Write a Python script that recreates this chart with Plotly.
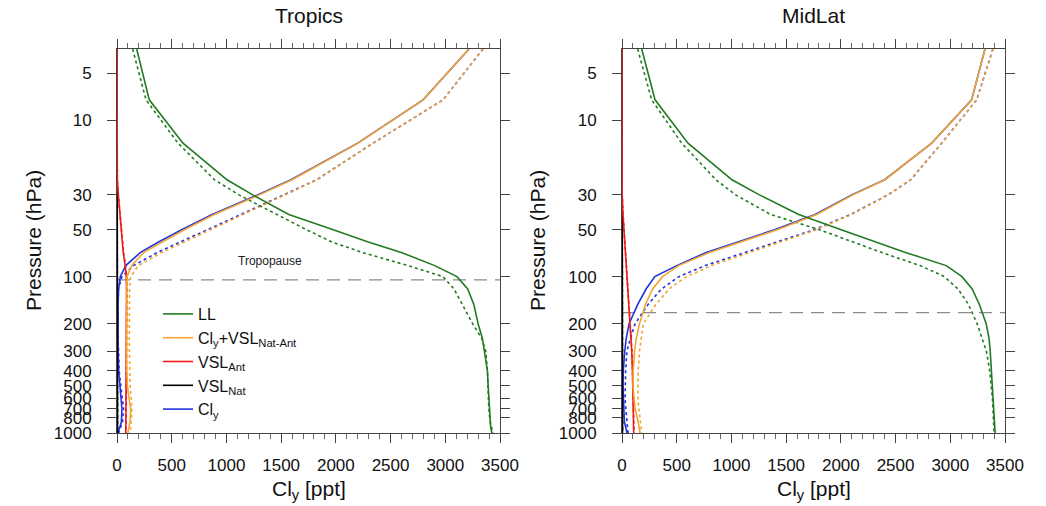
import plotly.graph_objects as go
import math

# Pressure levels (hPa)
P = [3.5, 7.4, 14, 24, 30, 40, 50, 60, 70, 85, 100, 120, 150, 200, 250, 300, 400, 500, 600, 700, 850, 925, 1000]

# ---------------- Tropics ----------------
trop_LL = [180, 295, 603, 1005, 1240, 1570, 1970, 2296, 2598, 2903, 3107, 3205, 3260, 3300, 3340, 3355, 3385, 3392, 3398, 3402, 3408, 3415, 3427]
trop_LL_d = [143, 265, 557, 890, 1115, 1456, 1729, 1963, 2240, 2660, 2980, 3080, 3151, 3250, 3335, 3370, 3385, 3390, 3395, 3398, 3410, 3420, 3436]
trop_CV = [3217, 2797, 2203, 1600, 1300, 889, 620, 410, 245, 133, 91, 88, 87, 88, 88, 88, 90, 95, 110, 125, 118, 108, 100]
trop_CV_d = [3345, 2980, 2340, 1831, 1536, 1151, 850, 612, 411, 195, 125, 115, 112, 112, 112, 113, 115, 120, 130, 135, 130, 125, 120]
trop_Ant = [0, 0, 1, 3, 12, 25, 35, 45, 57, 75, 85, 87, 87, 86, 85, 85, 84, 83, 82, 82, 81, 80, 80]
trop_Ant_d = [0, 0, 1, 3, 12, 26, 37, 48, 60, 78, 88, 90, 90, 89, 88, 88, 87, 86, 85, 85, 84, 83, 83]
trop_Nat = [0, 0, 0, 1, 1, 2, 2, 3, 3, 4, 4, 5, 5, 5, 5, 5, 5, 5, 5, 5, 5, 5, 5]
trop_Nat_d = [0, 0, 0, 1, 1, 2, 2, 3, 3, 4, 4, 5, 5, 5, 5, 5, 5, 5, 5, 5, 5, 5, 5]
trop_Cly = [3217, 2797, 2200, 1590, 1285, 870, 595, 380, 215, 80, 30, 15, 10, 8, 8, 10, 15, 25, 35, 45, 40, 25, 10]
trop_Cly_d = [3345, 2980, 2340, 1825, 1525, 1135, 830, 585, 370, 150, 45, 12, 10, 10, 10, 15, 20, 35, 50, 60, 50, 30, 15]
trop_tropopause = 105

# ---------------- MidLat ----------------
mid_LL = [180, 302, 603, 1005, 1256, 1615, 1997, 2323, 2590, 2963, 3107, 3200, 3265, 3328, 3355, 3365, 3375, 3385, 3390, 3395, 3400, 3405, 3410]
mid_LL_d = [143, 271, 545, 858, 1039, 1357, 1800, 2110, 2373, 2724, 2946, 3071, 3165, 3245, 3290, 3330, 3360, 3375, 3385, 3390, 3395, 3398, 3400]
mid_CV = [3317, 3195, 2830, 2403, 2109, 1779, 1424, 1081, 799, 517, 370, 280, 215, 160, 130, 115, 102, 100, 108, 120, 148, 160, 165]
mid_CV_d = [3390, 3241, 2921, 2638, 2435, 2100, 1780, 1451, 1170, 817, 589, 430, 311, 195, 175, 160, 148, 146, 146, 155, 165, 172, 180]
mid_Ant = [0, 0, 0, 0, 2, 9, 18, 25, 32, 42, 50, 57, 65, 73, 82, 89, 95, 98, 100, 102, 104, 106, 107]
mid_Ant_d = [0, 0, 0, 0, 2, 10, 19, 27, 34, 44, 52, 59, 67, 75, 84, 91, 97, 100, 102, 104, 106, 108, 110]
mid_Nat = [0, 0, 0, 0, 0, 1, 1, 1, 2, 2, 2, 3, 3, 3, 4, 4, 4, 5, 5, 5, 5, 5, 5]
mid_Nat_d = [0, 0, 0, 0, 0, 1, 1, 1, 2, 2, 2, 3, 3, 3, 4, 4, 4, 5, 5, 5, 5, 5, 5]
mid_Cly = [3317, 3195, 2830, 2400, 2100, 1765, 1400, 1060, 770, 500, 300, 220, 145, 65, 38, 25, 12, 9, 12, 18, 22, 35, 45]
mid_Cly_d = [3390, 3241, 2921, 2638, 2430, 2090, 1760, 1420, 1120, 760, 520, 360, 240, 120, 75, 45, 33, 28, 28, 35, 45, 50, 55]
mid_tropopause = 170

panel_titles = ["Tropics", "MidLat"]
x_ticks = [0, 500, 1000, 1500, 2000, 2500, 3000, 3500]
y_ticks = [5, 10, 30, 50, 100, 200, 300, 400, 500, 600, 700, 800, 1000]
x_limits = [0, 3500]
p_top = 3.5
p_bottom = 1000

series_names = ["LL", "Cl<sub>y</sub>+VSL<sub>Nat-Ant</sub>", "VSL<sub>Ant</sub>", "VSL<sub>Nat</sub>", "Cl<sub>y</sub>"]
series_colors = ["#217a21", "#f2a533", "#ee1c1c", "#000000", "#2233dd"]

FONT = "Liberation Sans, Arial, Helvetica, sans-serif"

panels = [
    dict(LL=trop_LL, LLd=trop_LL_d, CV=trop_CV, CVd=trop_CV_d, Ant=trop_Ant, Antd=trop_Ant_d,
         Nat=trop_Nat, Natd=trop_Nat_d, Cly=trop_Cly, Clyd=trop_Cly_d, tp=trop_tropopause),
    dict(LL=mid_LL, LLd=mid_LL_d, CV=mid_CV, CVd=mid_CV_d, Ant=mid_Ant, Antd=mid_Ant_d,
         Nat=mid_Nat, Natd=mid_Nat_d, Cly=mid_Cly, Clyd=mid_Cly_d, tp=mid_tropopause),
]

fig = go.Figure()

# draw order (bottom->top) and legend rank
draw_order = [("Cly", 4), ("Nat", 3), ("Ant", 2), ("CV", 1), ("LL", 0)]

for i, pan in enumerate(panels):
    xa = "x" if i == 0 else "x2"
    ya = "y" if i == 0 else "y2"
    # tropopause line
    fig.add_trace(go.Scatter(x=x_limits, y=[pan["tp"], pan["tp"]], mode="lines",
                             line=dict(color="#8a8a8a", width=1.2, dash="13px,8px"),
                             showlegend=False, hoverinfo="skip", xaxis=xa, yaxis=ya))
    for key, idx in draw_order:
        fig.add_trace(go.Scatter(x=pan[key + "d"], y=P, mode="lines",
                                 line=dict(color=series_colors[idx], width=1.6, dash="3px,3px"),
                                 showlegend=False, xaxis=xa, yaxis=ya))
    for key, idx in draw_order:
        fig.add_trace(go.Scatter(x=pan[key], y=P, mode="lines", name=series_names[idx],
                                 line=dict(color=series_colors[idx], width=1.6),
                                 showlegend=(i == 0), legendrank=idx + 1,
                                 xaxis=xa, yaxis=ya))

W, H = 1046, 506
x_dom = [[117 / W, 500 / W], [622 / W, 1005 / W]]
y_dom = [(H - 433) / H, (H - 49) / H]

axis_common_x = dict(range=x_limits, tickvals=x_ticks, ticks="outside", ticklen=9, tickwidth=1,
                     tickcolor="#444", showline=True, linecolor="#444", linewidth=1, mirror="ticks",
                     showgrid=False, zeroline=False, tickfont=dict(size=17, family=FONT, color="#111"),
                     ticklabelstandoff=8,
                     minor=dict(dtick=100, ticks="outside", ticklen=5, tickcolor="#666", showgrid=False))
axis_common_y = dict(type="log", range=[math.log10(p_bottom), math.log10(p_top)], tickvals=y_ticks,
                     ticktext=[str(v) for v in y_ticks], ticks="outside", ticklen=9, tickwidth=1,
                     tickcolor="#444", showline=True, linecolor="#444", linewidth=1, mirror="ticks",
                     showgrid=False, zeroline=False, tickfont=dict(size=17, family=FONT, color="#111"),
                     ticklabelstandoff=12)

layout = dict(
    width=W, height=H, margin=dict(l=0, r=0, t=0, b=0, autoexpand=False),
    paper_bgcolor="white", plot_bgcolor="white",
    font=dict(family=FONT, color="#111"),
    showlegend=True,
    legend=dict(x=158 / W, y=(H - 297) / H, xanchor="left", yanchor="top",
                bgcolor="rgba(0,0,0,0)", font=dict(size=16, family=FONT, color="#111"),
                tracegroupgap=0, itemwidth=30, traceorder="normal"),
    xaxis=dict(domain=x_dom[0], anchor="y", **axis_common_x),
    yaxis=dict(domain=y_dom, anchor="x", **axis_common_y),
    xaxis2=dict(domain=x_dom[1], anchor="y2", **axis_common_x),
    yaxis2=dict(domain=y_dom, anchor="x2", **axis_common_y),
)

ann = []
for i in range(2):
    cx = (x_dom[i][0] + x_dom[i][1]) / 2
    ann.append(dict(text=panel_titles[i], x=cx, y=(H - 15) / H, xref="paper", yref="paper",
                    showarrow=False, font=dict(size=21, family=FONT, color="#111"),
                    xanchor="center", yanchor="middle"))
    ann.append(dict(text="Cl<sub>y</sub> [ppt]", x=cx, y=(H - 490) / H, xref="paper", yref="paper",
                    showarrow=False, font=dict(size=21, family=FONT, color="#111"),
                    xanchor="center", yanchor="middle"))
    ylx = (33 if i == 0 else 537) / W
    ann.append(dict(text="Pressure (hPa)", x=ylx, y=(y_dom[0] + y_dom[1]) / 2, xref="paper", yref="paper",
                    showarrow=False, textangle=-90, font=dict(size=21, family=FONT, color="#111"),
                    xanchor="center", yanchor="middle"))
ann.append(dict(text="Tropopause", x=1400, y=math.log10(80), xref="x", yref="y", showarrow=False,
                font=dict(size=12, family=FONT, color="#222"), xanchor="center", yanchor="middle"))
layout["annotations"] = ann

fig.update_layout(**layout)
fig.write_html("out.html", config={"displayModeBar": False},
               post_script="document.body.style.margin='0';document.body.style.overflow='hidden';")
